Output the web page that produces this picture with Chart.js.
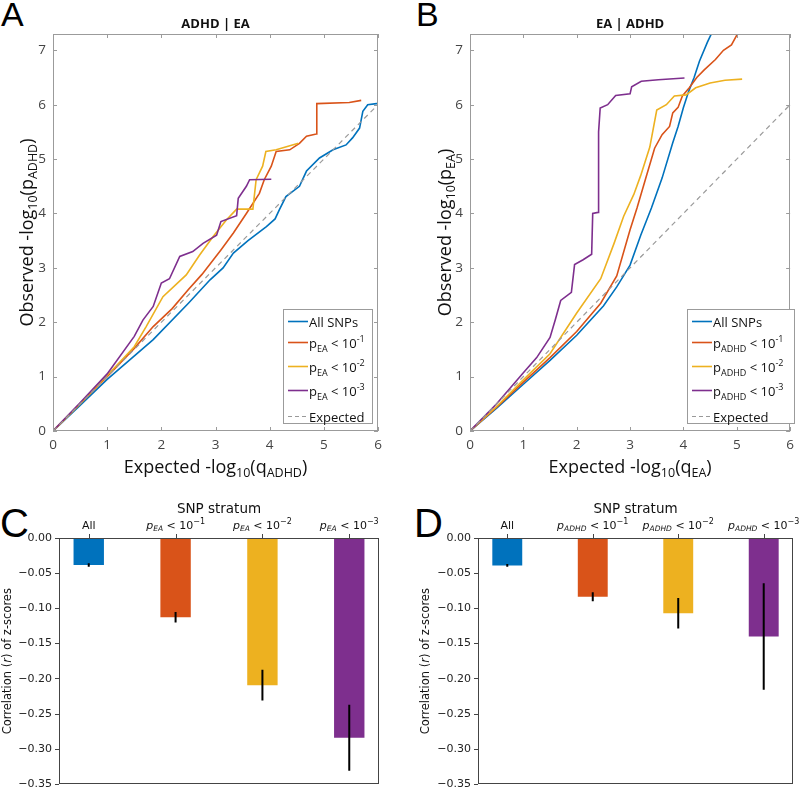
<!DOCTYPE html>
<html>
<head>
<meta charset="utf-8">
<script src="https://cdn.jsdelivr.net/npm/chart.js@4.4.0/dist/chart.umd.min.js"></script>
<style>
  body { margin: 0; background: #fff; width: 800px; height: 794px; position: relative; overflow: hidden; }
  canvas { position: absolute; }
  .letter { position: absolute; font-family: "Liberation Sans", Arial, sans-serif; line-height: 1; color: #000; }
</style>
</head>
<body>
<div class="letter" style="left:1px;top:-3px;font-size:34px">A</div>
<div class="letter" style="left:416px;top:-3px;font-size:34px">B</div>
<div class="letter" style="left:0px;top:503px;font-size:40px">C</div>
<div class="letter" style="left:414px;top:503px;font-size:40px">D</div>
<canvas id="cA" width="400" height="480" style="left:0;top:0"></canvas>
<canvas id="cB" width="400" height="480" style="left:400px;top:0"></canvas>
<canvas id="cC" width="400" height="314" style="left:0;top:480px"></canvas>
<canvas id="cD" width="400" height="314" style="left:400px;top:480px"></canvas>
<script>
// ---- QQ plot ticks
const qqXTicks = [0, 1, 2, 3, 4, 5, 6];
const qqYTicks = [0, 1, 2, 3, 4, 5, 6, 7];

// ---- Panel A: ADHD | EA
const aAllX = [0, 0.5, 1, 1.85, 2.5, 2.9, 3.14, 3.33, 3.6, 3.94, 4.1, 4.18, 4.3, 4.55, 4.68, 4.92, 5.17, 5.41, 5.53, 5.66, 5.72, 5.81, 5.97, 6.0];
const aAllY = [0, 0.47, 0.95, 1.68, 2.35, 2.78, 3.0, 3.27, 3.5, 3.76, 3.9, 4.07, 4.31, 4.5, 4.78, 5.02, 5.17, 5.26, 5.39, 5.57, 5.88, 6.0, 6.02, 6.02];
const aP1X = [0, 0.5, 1, 1.5, 1.85, 2.2, 2.5, 2.75, 3.0, 3.1, 3.33, 3.57, 3.81, 3.9, 4.03, 4.12, 4.37, 4.55, 4.68, 4.86, 4.87, 5.47, 5.69];
const aP1Y = [0, 0.5, 1.0, 1.52, 1.92, 2.25, 2.6, 2.88, 3.2, 3.33, 3.64, 4.0, 4.37, 4.62, 4.87, 5.14, 5.17, 5.29, 5.42, 5.46, 6.02, 6.04, 6.08];
const aP2X = [0, 0.5, 1, 1.5, 1.72, 2.03, 2.46, 2.71, 2.96, 3.2, 3.39, 3.69, 3.75, 3.87, 3.93, 4.12, 4.53];
const aP2Y = [0, 0.5, 1.02, 1.55, 1.92, 2.47, 2.87, 3.24, 3.58, 3.88, 4.08, 4.08, 4.62, 4.87, 5.14, 5.17, 5.29];
const aP3X = [0, 0.5, 1, 1.5, 1.66, 1.85, 2.0, 2.15, 2.34, 2.58, 2.77, 3.02, 3.1, 3.39, 3.42, 3.57, 3.63, 4.03];
const aP3Y = [0, 0.52, 1.05, 1.74, 2.04, 2.29, 2.72, 2.8, 3.21, 3.3, 3.45, 3.6, 3.85, 3.96, 4.28, 4.5, 4.62, 4.63];

// ---- Panel B: EA | ADHD
const bAllX = [0, 0.5, 1, 1.5, 2, 2.5, 2.75, 3, 3.2, 3.4, 3.6, 3.8, 3.9, 4.0, 4.1, 4.2, 4.3, 4.45, 4.57];
const bAllY = [0, 0.42, 0.86, 1.3, 1.76, 2.3, 2.65, 3.05, 3.6, 4.1, 4.65, 5.3, 5.6, 5.95, 6.25, 6.5, 6.8, 7.15, 7.4];
const bP1X = [0, 0.5, 1, 1.5, 2, 2.45, 2.75, 3.0, 3.13, 3.28, 3.46, 3.6, 3.74, 3.8, 3.9, 3.98, 4.11, 4.25, 4.39, 4.6, 4.75, 4.9, 5.04];
const bP1Y = [0, 0.44, 0.9, 1.35, 1.83, 2.35, 2.85, 3.7, 4.1, 4.6, 5.2, 5.45, 5.6, 5.85, 5.95, 6.16, 6.31, 6.5, 6.64, 6.83, 7.0, 7.1, 7.35];
const bP2X = [0, 0.5, 1, 1.5, 2, 2.45, 2.7, 2.88, 3.07, 3.2, 3.37, 3.5, 3.68, 3.83, 4.05, 4.23, 4.5, 4.78, 5.1];
const bP2Y = [0, 0.45, 0.94, 1.42, 2.17, 2.8, 3.45, 3.95, 4.35, 4.7, 5.22, 5.9, 6.0, 6.16, 6.18, 6.31, 6.4, 6.45, 6.47];
const bP3X = [0, 0.5, 1, 1.25, 1.5, 1.6, 1.7, 1.9, 1.96, 2.12, 2.28, 2.3, 2.4, 2.41, 2.44, 2.58, 2.73, 3.0, 3.03, 3.21, 3.53, 4.02];
const bP3Y = [0, 0.5, 1.07, 1.35, 1.72, 2.05, 2.4, 2.55, 3.06, 3.15, 3.25, 4.0, 4.02, 5.5, 5.94, 6.0, 6.17, 6.2, 6.33, 6.43, 6.46, 6.49];

const expectedX = [0, 6];
const expectedY = [0, 6];

// ---- Panels C and D: correlation of z-scores per stratum
const strata = ["All", "1", "2", "3"];
const cCorr = [-0.0385, -0.1125, -0.209, -0.2837];
const cErr = [0.0025, 0.0075, 0.022, 0.047];
const dCorr = [-0.039, -0.0835, -0.107, -0.140];
const dErr = [0.002, 0.0065, 0.0217, 0.0756];
const barYTicks = [0, -0.05, -0.10, -0.15, -0.20, -0.25, -0.30, -0.35];

const colors = ["#0072BD", "#D95319", "#EDB120", "#7E2F8E"];
const MAT = "'Open Sans', 'Noto Sans', sans-serif";
const DJV = "'DejaVu Sans', sans-serif";

function seg(t, size, extra) {
  extra = extra || {};
  return { t: t, f: (extra.style || "") + " " + size + "px " + (extra.fam || MAT), dy: extra.dy || 0, c: extra.c };
}

function drawRich(ctx, segs, x, y, align, rot) {
  ctx.save();
  ctx.translate(x, y);
  if (rot) ctx.rotate(rot);
  ctx.textAlign = "left";
  ctx.textBaseline = "alphabetic";
  let w = 0;
  for (const s of segs) { ctx.font = s.f; w += ctx.measureText(s.t).width; }
  let cx = align === "center" ? -w / 2 : (align === "right" ? -w : 0);
  for (const s of segs) {
    ctx.font = s.f;
    ctx.fillStyle = s.c || "#111";
    ctx.fillText(s.t, cx, s.dy);
    cx += ctx.measureText(s.t).width;
  }
  ctx.restore();
}

function pts(xs, ys) {
  return xs.map((x, i) => ({ x: x, y: ys[i] }));
}

// frame, inner ticks, legend and titles of the QQ panels
const qqDecor = {
  id: "qqDecor",
  afterDraw(chart, args, o) {
    const ctx = chart.ctx, a = chart.chartArea, sx = chart.scales.x, sy = chart.scales.y;
    ctx.save();
    ctx.strokeStyle = "#9b9b9b";
    ctx.lineWidth = 1;
    ctx.strokeRect(Math.round(a.left) + 0.5, Math.round(a.top) + 0.5, Math.round(a.width) - 1, Math.round(a.height) - 1);
    ctx.beginPath();
    for (const v of qqXTicks) {
      const px = Math.round(sx.getPixelForValue(v)) + 0.5;
      ctx.moveTo(px, a.bottom); ctx.lineTo(px, a.bottom - 4);
      ctx.moveTo(px, a.top); ctx.lineTo(px, a.top + 4);
    }
    for (const v of qqYTicks) {
      const py = Math.round(sy.getPixelForValue(v)) + 0.5;
      ctx.moveTo(a.left, py); ctx.lineTo(a.left + 4, py);
      ctx.moveTo(a.right, py); ctx.lineTo(a.right - 4, py);
    }
    ctx.stroke();

    // legend
    const L = o.legend;
    ctx.fillStyle = "#fff";
    ctx.fillRect(L.x, L.y, L.w, L.h);
    ctx.strokeStyle = "#9b9b9b";
    ctx.strokeRect(L.x + 0.5, L.y + 0.5, L.w - 1, L.h - 1);
    const rowsY = [12, 33, 57, 81, 107];
    const lcols = [colors[0], colors[1], colors[2], colors[3], "#999"];
    const sub = o.sub;
    const labels = [
      [seg("All SNPs", 13)],
      [seg("p", 13), seg(sub, 9, { dy: 4 }), seg(" < 10", 13), seg("-1", 9, { dy: -6 })],
      [seg("p", 13), seg(sub, 9, { dy: 4 }), seg(" < 10", 13), seg("-2", 9, { dy: -6 })],
      [seg("p", 13), seg(sub, 9, { dy: 4 }), seg(" < 10", 13), seg("-3", 9, { dy: -6 })],
      [seg("Expected", 13)]
    ];
    for (let i = 0; i < 5; i++) {
      const ly = L.y + rowsY[i] + 0.5;
      ctx.beginPath();
      ctx.strokeStyle = lcols[i];
      ctx.lineWidth = i === 4 ? 1.2 : 1.6;
      ctx.setLineDash(i === 4 ? [4, 3] : []);
      ctx.moveTo(L.x + 5, ly); ctx.lineTo(L.x + 25, ly);
      ctx.stroke();
      ctx.setLineDash([]);
      drawRich(ctx, labels[i], L.x + 26, ly + 5, "left");
    }

    // titles
    const cxm = (a.left + a.right) / 2, cym = (a.top + a.bottom) / 2;
    ctx.font = "bold 13px " + MAT;
    ctx.fillStyle = "#111";
    ctx.textAlign = "center";
    ctx.fillText(o.title, cxm, 28);
    drawRich(ctx, [seg("Expected -log", 18), seg("10", 12.5, { dy: 4 }), seg("(q", 18), seg(o.xsub, 12.5, { dy: 4 }), seg(")", 18)], cxm, 473, "center");
    drawRich(ctx, [seg("Observed -log", 18), seg("10", 12.5, { dy: 4 }), seg("(p", 18), seg(o.ysub, 12.5, { dy: 4 }), seg(")", 18)], o.yTitleX, cym, "center", -Math.PI / 2);
    ctx.restore();
  }
};

function qqChart(id, series, cfg) {
  const ds = [
    { data: pts(expectedX, expectedY), borderColor: "#9a9a9a", borderWidth: 1.2, borderDash: [5, 4] },
    { data: pts(series[3][0], series[3][1]), borderColor: colors[3], borderWidth: 1.6 },
    { data: pts(series[2][0], series[2][1]), borderColor: colors[2], borderWidth: 1.6 },
    { data: pts(series[1][0], series[1][1]), borderColor: colors[1], borderWidth: 1.6 },
    { data: pts(series[0][0], series[0][1]), borderColor: colors[0], borderWidth: 1.6 }
  ];
  ds.forEach(d => { d.pointRadius = 0; d.fill = false; d.tension = 0; });
  return new Chart(document.getElementById(id), {
    type: "line",
    data: { datasets: ds },
    options: {
      responsive: false,
      animation: false,
      layout: { padding: { left: 0, right: cfg.padRight, top: 34, bottom: 0 } },
      plugins: {
        legend: { display: false },
        tooltip: { enabled: false },
        qqDecor: cfg.decor
      },
      scales: {
        x: {
          type: "linear", min: 0, max: 6,
          afterBuildTicks: s => { s.ticks = qqXTicks.map(v => ({ value: v })); },
          afterFit: s => { s.height = 49; },
          grid: { display: false, drawTicks: false },
          border: { display: false },
          ticks: { font: { family: MAT, size: 13.5 }, color: "#444", padding: 6 }
        },
        y: {
          type: "linear", min: 0, max: 7.3,
          afterBuildTicks: s => { s.ticks = qqYTicks.map(v => ({ value: v })); },
          afterFit: s => { s.width = cfg.yWidth; },
          grid: { display: false, drawTicks: false },
          border: { display: false },
          ticks: { font: { family: MAT, size: 13.5 }, color: "#444", padding: 7 }
        }
      }
    },
    plugins: [qqDecor]
  });
}

qqChart("cA", [[aAllX, aAllY], [aP1X, aP1Y], [aP2X, aP2Y], [aP3X, aP3Y]], {
  padRight: 22, yWidth: 53,
  decor: { title: "ADHD | EA", xsub: "ADHD", ysub: "ADHD", sub: "EA", yTitleX: 33, legend: { x: 283, y: 309, w: 90, h: 115 } }
});
qqChart("cB", [[bAllX, bAllY], [bP1X, bP1Y], [bP2X, bP2Y], [bP3X, bP3Y]], {
  padRight: 4, yWidth: 70,
  decor: { title: "EA | ADHD", xsub: "EA", ysub: "EA", sub: "ADHD", yTitleX: 51, legend: { x: 287, y: 309, w: 108, h: 115 } }
});

// frame, error bars and stratum labels of the bar panels
const barDecor = {
  id: "barDecor",
  afterDraw(chart, args, o) {
    const ctx = chart.ctx, a = chart.chartArea, sx = chart.scales.x, sy = chart.scales.y;
    ctx.save();
    // error bars
    ctx.strokeStyle = "#000";
    ctx.lineWidth = 2;
    ctx.beginPath();
    o.vals.forEach((v, i) => {
      const px = sx.getPixelForValue(i);
      ctx.moveTo(px, sy.getPixelForValue(v + o.err[i]));
      ctx.lineTo(px, sy.getPixelForValue(v - o.err[i]));
    });
    ctx.stroke();
    // frame and top ticks
    ctx.strokeStyle = "#444";
    ctx.lineWidth = 1;
    ctx.strokeRect(Math.round(a.left) + 0.5, Math.round(a.top) + 0.5, Math.round(a.width) - 1, Math.round(a.height) - 1);
    ctx.beginPath();
    strata.forEach((s, i) => {
      const px = Math.round(sx.getPixelForValue(i)) + 0.5;
      ctx.moveTo(px, a.top); ctx.lineTo(px, a.top - 4);
    });
    ctx.stroke();
    // labels
    strata.forEach((s, i) => {
      const px = sx.getPixelForValue(i);
      let segs;
      if (s === "All") segs = [seg("All", 11, { fam: DJV })];
      else segs = [seg("p", 11, { fam: DJV, style: "italic" }), seg(o.sub, 7.5, { fam: DJV, style: "italic", dy: 2 }),
                   seg(" < 10", 11, { fam: DJV }), seg("\u2212" + s, 8, { fam: DJV, dy: -5 })];
      drawRich(ctx, segs, px, 49, "center");
    });
    drawRich(ctx, [seg("SNP stratum", 13.5, { fam: DJV })], (a.left + a.right) / 2, 33, "center");
    drawRich(ctx, [seg("Correlation (", 11.5, { fam: DJV }), seg("r", 11.5, { fam: DJV, style: "italic" }), seg(") of z-scores", 11.5, { fam: DJV })],
      o.yTitleX, (a.top + a.bottom) / 2, "center", -Math.PI / 2);
    ctx.restore();
  }
};

function barChart(id, vals, err, cfg) {
  return new Chart(document.getElementById(id), {
    type: "bar",
    data: {
      datasets: [{
        data: vals.map((v, i) => ({ x: i, y: v })),
        backgroundColor: colors,
        barPercentage: 0.35,
        categoryPercentage: 1
      }]
    },
    options: {
      responsive: false,
      animation: false,
      layout: { padding: { left: 0, right: cfg.padRight, top: 58, bottom: 6 } },
      plugins: {
        legend: { display: false },
        tooltip: { enabled: false },
        barDecor: { vals: vals, err: err, sub: cfg.sub, yTitleX: cfg.yTitleX }
      },
      scales: {
        x: { type: "linear", min: -0.3425, max: 3.3425, offset: false, display: false },
        y: {
          min: -0.35, max: 0,
          afterBuildTicks: s => { s.ticks = barYTicks.map(v => ({ value: v })); },
          afterFit: s => { s.width = cfg.yWidth; },
          border: { display: false },
          grid: { drawOnChartArea: false, tickLength: 4, color: "#444" },
          ticks: {
            font: { family: DJV, size: 11 }, color: "#222", padding: 3,
            callback: v => v.toFixed(2).replace("-", "\u2212")
          }
        }
      }
    },
    plugins: [barDecor]
  });
}

barChart("cC", cCorr, cErr, { padRight: 21, yWidth: 59, sub: "EA", yTitleX: 11 });
barChart("cD", dCorr, dErr, { padRight: 7, yWidth: 78, sub: "ADHD", yTitleX: 29 });
</script>
</body>
</html>
